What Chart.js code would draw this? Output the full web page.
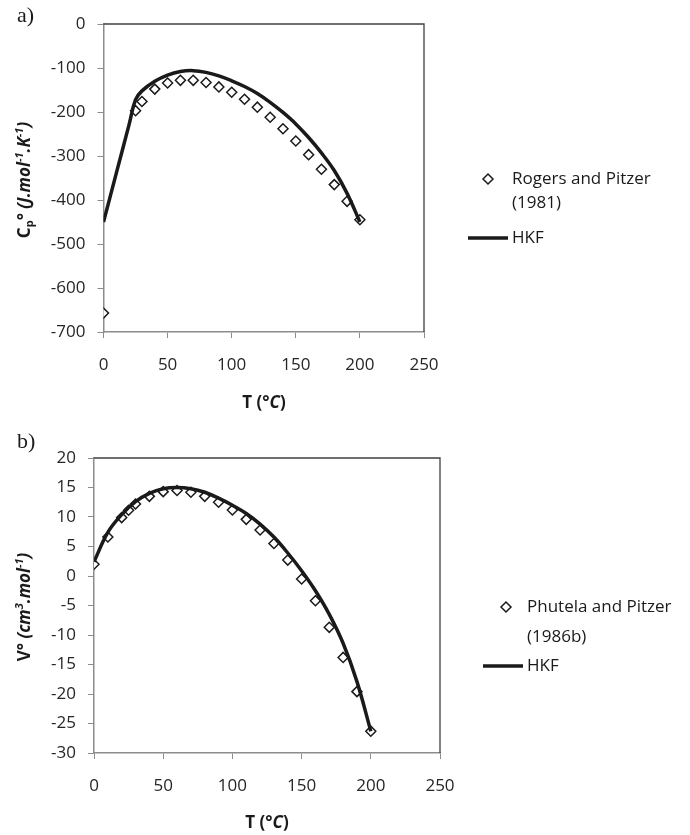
<!DOCTYPE html>
<html>
<head>
<meta charset="UTF-8">
<title>Cp and V vs T</title>
<script src="https://cdn.jsdelivr.net/npm/chart.js@4.4.1/dist/chart.umd.min.js"></script>
<style>
  body { margin: 0; background: #fff; }
  .wrap { position: relative; width: 690px; height: 835px; }
  canvas { position: absolute; left: 0; }
</style>
</head>
<body>
<div class="wrap">
  <canvas id="chartA" width="690" height="415" style="top:0"></canvas>
  <canvas id="chartB" width="690" height="420" style="top:415px"></canvas>
</div>
<script>
// a) heat capacity, Rogers and Pitzer (1981) vs HKF
const tempRogers = [0, 25, 30, 40, 50, 60, 70, 80, 90, 100, 110, 120, 130, 140, 150, 160, 170, 180, 190, 200];
const cpRogers = [-657, -197, -176, -148, -134, -128, -128, -133, -143, -155, -171, -189, -212, -238, -266, -297, -330, -365, -403, -445];
const tempHkfA = [0, 10, 20, 25, 30, 40, 50, 60, 70, 80, 90, 100, 110, 120, 130, 140, 150, 160, 170, 180, 190, 200];
const cpHkf = [-450, -339, -228, -172, -152, -130, -116, -108, -106, -110, -118, -129, -142, -158, -178, -201, -227, -258, -293, -333, -385, -450];

// b) volume, Phutela and Pitzer (1986b) vs HKF
const tempPhutela = [0, 10, 20, 25, 30, 40, 50, 60, 70, 80, 90, 100, 110, 120, 130, 140, 150, 160, 170, 180, 190, 200];
const vPhutela = [2.0, 6.6, 9.9, 11.15, 12.2, 13.5, 14.3, 14.5, 14.2, 13.5, 12.5, 11.2, 9.6, 7.8, 5.5, 2.7, -0.5, -4.2, -8.7, -13.8, -19.6, -26.3];
const tempHkfB = [0, 10, 20, 30, 40, 50, 60, 70, 80, 90, 100, 110, 120, 130, 140, 150, 160, 170, 180, 190, 200];
const vHkf = [2.4, 7.4, 10.4, 12.6, 14.0, 14.8, 15.0, 14.8, 14.2, 13.2, 12.0, 10.6, 8.8, 6.6, 3.9, 0.9, -2.5, -6.5, -11.4, -17.9, -26.3];

// axis ranges
const xRange = [0, 250, 50];
const cpRange = [-700, 0, 100];
const vRange = [-30, 20, 5];

Chart.defaults.font.family = '"Open Sans", sans-serif';
Chart.defaults.font.size = 17;
Chart.defaults.color = '#262626';

const INK = '#1a1a1a';

function pairs(xs, ys) {
  return xs.map((x, i) => ({ x: x, y: ys[i] }));
}

// draws text made of bold / italic / sub / sup pieces, centred on (x, y)
function drawRich(ctx, segs, x, y, size, rotate) {
  ctx.save();
  ctx.translate(x, y);
  if (rotate) ctx.rotate(-Math.PI / 2);
  let total = 0;
  const parts = segs.map(s => {
    const fs = (s.sup || s.sub) ? Math.round(size * 0.65) : size;
    const font = (s.italic ? 'italic ' : '') + 'bold ' + fs + 'px "Open Sans", sans-serif';
    ctx.font = font;
    const w = ctx.measureText(s.t).width;
    total += w;
    return { s: s, font: font, w: w };
  });
  let cx = -total / 2;
  ctx.textBaseline = 'middle';
  ctx.fillStyle = INK;
  parts.forEach(p => {
    ctx.font = p.font;
    const dy = p.s.sup ? -size * 0.33 : (p.s.sub ? size * 0.3 : 0);
    ctx.fillText(p.s.t, cx, dy);
    cx += p.w;
  });
  ctx.restore();
}

function decor(cfg) {
  return {
    id: 'decor',
    beforeDatasetsDraw(chart) {
      const { ctx, chartArea: a } = chart;
      ctx.save();
      ctx.strokeStyle = '#404040';
      ctx.lineWidth = 1.3;
      ctx.beginPath();
      ctx.moveTo(a.left, a.top);
      ctx.lineTo(a.right, a.top);
      ctx.lineTo(a.right, a.bottom);
      ctx.stroke();
      ctx.restore();
    },
    afterDraw(chart) {
      const ctx = chart.ctx;
      ctx.save();
      // panel tag
      ctx.font = '22px "Liberation Serif", serif';
      ctx.fillStyle = INK;
      ctx.textBaseline = 'middle';
      ctx.fillText(cfg.tag, cfg.tagPos[0], cfg.tagPos[1]);

      drawRich(ctx, cfg.xTitle, cfg.xTitlePos[0], cfg.xTitlePos[1], 17, false);
      drawRich(ctx, cfg.yTitle, cfg.yTitlePos[0], cfg.yTitlePos[1], 17, true);

      // legend
      const L = cfg.legend;
      ctx.font = '17px "Open Sans", sans-serif';
      ctx.textBaseline = 'middle';
      const [dx, dy] = L.marker;
      ctx.beginPath();
      ctx.moveTo(dx - 5, dy);
      ctx.lineTo(dx, dy - 5);
      ctx.lineTo(dx + 5, dy);
      ctx.lineTo(dx, dy + 5);
      ctx.closePath();
      ctx.fillStyle = '#fff';
      ctx.fill();
      ctx.strokeStyle = INK;
      ctx.lineWidth = 1.5;
      ctx.stroke();
      ctx.fillStyle = INK;
      L.lines.forEach((t, i) => ctx.fillText(t, L.textX, dy + i * L.gap));
      ctx.beginPath();
      ctx.moveTo(L.line[0], L.line[2]);
      ctx.lineTo(L.line[1], L.line[2]);
      ctx.lineWidth = 3.5;
      ctx.stroke();
      ctx.fillText('HKF', L.textX, L.line[2]);
      ctx.restore();
    }
  };
}

function makeChart(id, obs, hkf, yRange, geo, cfg) {
  return new Chart(document.getElementById(id), {
    type: 'scatter',
    data: {
      datasets: [
        {
          label: 'HKF',
          data: hkf,
          showLine: true,
          borderColor: INK,
          borderWidth: 3.5,
          pointRadius: 0,
          tension: 0.4,
          order: 0
        },
        {
          label: cfg.legend.lines.join(' '),
          data: obs,
          showLine: false,
          pointStyle: 'rectRot',
          pointRadius: 5,
          pointBorderWidth: 1.5,
          pointBackgroundColor: '#fff',
          pointBorderColor: INK,
          order: 1
        }
      ]
    },
    options: {
      responsive: false,
      animation: false,
      layout: { padding: { left: 0, top: geo.top, right: geo.right, bottom: 0 } },
      plugins: { legend: { display: false }, tooltip: { enabled: false } },
      scales: {
        x: {
          type: 'linear',
          min: xRange[0], max: xRange[1],
          ticks: { stepSize: xRange[2], padding: 17 },
          grid: { drawOnChartArea: false, tickLength: 6, color: '#8c8c8c' },
          border: { color: '#8c8c8c', width: 1.5 },
          afterFit: s => { s.height = geo.xHeight; }
        },
        y: {
          type: 'linear',
          min: yRange[0], max: yRange[1],
          ticks: { stepSize: yRange[2], padding: 12 },
          grid: { drawOnChartArea: false, tickLength: 6, color: '#8c8c8c' },
          border: { color: '#8c8c8c', width: 1.5 },
          afterFit: s => { s.width = geo.yWidth; }
        }
      }
    },
    plugins: [decor(cfg)]
  });
}

const xTitle = [{ t: 'T (' }, { t: '\u00B0C', italic: true }, { t: ')' }];

makeChart('chartA', pairs(tempRogers, cpRogers), pairs(tempHkfA, cpHkf), cpRange,
  { top: 24, right: 266, xHeight: 83, yWidth: 103.5 },
  {
    tag: 'a)', tagPos: [17, 16],
    xTitle: xTitle, xTitlePos: [264, 403],
    yTitle: [
      { t: 'C' }, { t: 'p', sub: true }, { t: '\u00B0 ' },
      { t: '(J.mol', italic: true }, { t: '-1', italic: true, sup: true },
      { t: '.K', italic: true }, { t: '-1', italic: true, sup: true }, { t: ')', italic: true }
    ],
    yTitlePos: [25, 180],
    legend: { marker: [488, 179], textX: 512, lines: ['Rogers and Pitzer', '(1981)'], gap: 24, line: [468, 508, 238] }
  });

makeChart('chartB', pairs(tempPhutela, vPhutela), pairs(tempHkfB, vHkf), vRange,
  { top: 43, right: 250, xHeight: 82, yWidth: 94 },
  {
    tag: 'b)', tagPos: [17, 27],
    xTitle: xTitle, xTitlePos: [267, 408],
    yTitle: [
      { t: 'V\u00B0 ' }, { t: '(cm', italic: true }, { t: '3', italic: true, sup: true },
      { t: '.mol', italic: true }, { t: '-1', italic: true, sup: true }, { t: ')', italic: true }
    ],
    yTitlePos: [25, 192],
    legend: { marker: [506, 192], textX: 527, lines: ['Phutela and Pitzer', '(1986b)'], gap: 30, line: [483, 523, 251] }
  });
</script>
</body>
</html>
